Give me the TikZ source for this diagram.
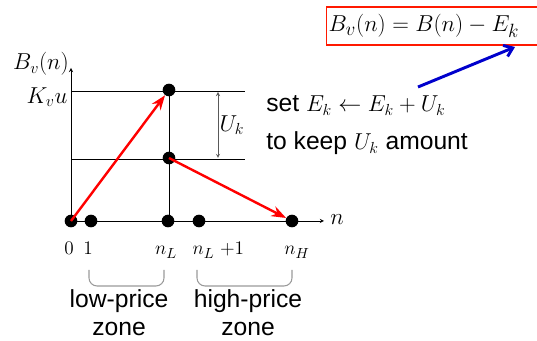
\documentclass[tikz,border=0pt]{standalone}
\usepackage{fontspec}
\setmainfont{Liberation Sans}
\usetikzlibrary{arrows.meta}
\tikzset{
  dot/.style={circle, fill=black, inner sep=0pt, minimum size=9.5pt},
  tick/.style={font=\fontsize{15}{17}\selectfont, anchor=base},
  zone/.style={draw=gray!80, thick, rounded corners=6pt},
  push/.style={red, line width=1.8pt, -{Stealth[length=11pt,width=8pt]}},
}
\begin{document}
\begin{tikzpicture}[x=0.75pt, y=-0.75pt, font=\fontsize{18.5}{21}\selectfont]
\useasboundingbox (0,0) rectangle (537,341);
% axes
\draw [->, >=stealth] (71,221) -- (324,221);
\draw [->, >=stealth] (71,221) -- (71,68);
\node[anchor=base] (nlab) at (337,225) {$n$};
\node (bvlab) at (41,64) {$B_v(n)$};
\node (kvu) at (47,97) {$K_v u$};
% levels
\draw (71,91) -- (245,91);
\draw (71,159) -- (245,159);
\draw (169,221) -- (169,91);
\draw [<->, >=stealth, gray!70!black] (218,92) -- (218,158);
\node (uk) at (232,125) {$U_k$};
% dots
\node[dot] (o) at (71,221) {};
\node[dot] (one) at (91,221) {};
\node[dot] (nl) at (168,221) {};
\node[dot] (nlp) at (199,221) {};
\node[dot] (nh) at (292,221) {};
\node[dot] (kt) at (169,90) {};
\node[dot] (km) at (169,158) {};
% moves
\draw [push] (o.center) -- (kt);
\draw [push] (km.center) -- (nh);
% tick labels
\node[tick] at (69,255) {$0$};
\node[tick] at (88,255) {$1$};
\node[tick] at (166,255) {$n_L$};
\node[tick, anchor=base west] at (188,255) {$n_L\ {+}1$};
\node[tick] at (297,255) {$n_H$};
% zones
\draw [zone] (89,270) -- (89,286) -- (164,286) -- (164,270);
\draw [zone] (197,270) -- (197,286) -- (292,286) -- (292,270);
\node[align=center, inner sep=0pt, anchor=base] (low) at (119,336) {low-price\\zone};
\node[align=center, inner sep=0pt, anchor=base] (high) at (248,336) {high-price\\zone};
% rule
\node[anchor=base west, inner sep=0pt] (set) at (266,112) {set $E_k \leftarrow E_k + U_k$};
\node[anchor=base west, inner sep=0pt] (keep) at (266,150) {to keep $U_k$ amount};
\node[draw=red!80!orange, thick, anchor=west, inner sep=1.5pt, minimum height=28.5pt,
      text width=200pt, font=\fontsize{19}{22}\selectfont] (bv) at (326,26) {$B_v(n) = B(n) - E_k$};
\coordinate (bstart) at (418,87);
\coordinate (bend) at (515,47);
\draw [blue!80!black, line width=2.2pt, -{Straight Barb[length=6pt,width=9pt]}] (bstart) -- (bend);
\end{tikzpicture}
\end{document}
